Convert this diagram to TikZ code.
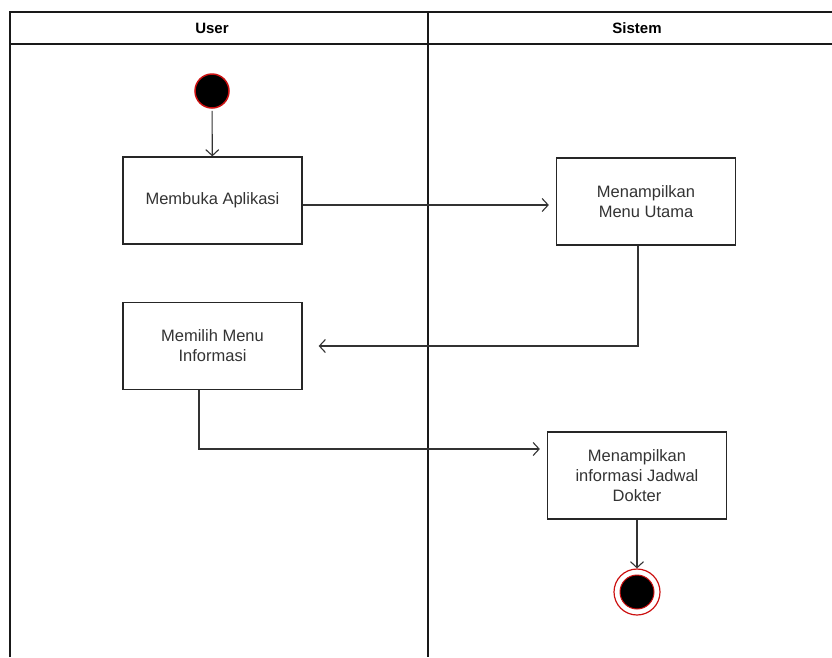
\documentclass[tikz,border=0pt]{standalone}
\usepackage{fontspec}
\setmainfont{Liberation Sans}
\usetikzlibrary{positioning,arrows.meta}
\definecolor{startred}{HTML}{CC1111}
\definecolor{textgrey}{HTML}{333333}
\tikzset{
    actbox/.style={draw=black!85, line width=1.3pt, minimum width=179pt, minimum height=87pt,
        align=center, font=\fontsize{16.5}{20}\selectfont, text=textgrey},
    flow/.style={-{Straight Barb[length=6pt,width=13pt,line width=1.1pt]}, line width=1.1pt, draw=black!80},
    lane/.style={line width=1.1pt, draw=black!90}
}
\begin{document}
\begin{tikzpicture}[x=1pt,y=-1pt]
        \useasboundingbox (0,0) rectangle (832,657);
        % swimlanes
        \draw[lane] (10,657) -- (10,12) -- (832,12);
        \draw[lane] (10,44) -- (832,44);
        \draw[lane] (428,12) -- (428,657);
        \node[font=\fontsize{15}{18}\selectfont\bfseries] (user) at (212,28) {User};
        \node[font=\fontsize{15}{18}\selectfont\bfseries] (sistem) at (637,28) {Sistem};
        % start and end
        \node[circle, fill=black, draw=startred, line width=1.5pt, minimum size=34pt, inner sep=0pt] (start) at (212,91) {};
        \node[circle, draw=startred, line width=1.2pt, minimum size=46pt, inner sep=0pt] (stop) at (637,592) {};
        \node[circle, fill=black, draw=startred, line width=1pt, minimum size=34pt, inner sep=0pt] (stopdot) at (637,592) {};
        % activities
        \node[actbox] (buka) at (212.5,200.5) {Membuka Aplikasi};
        \node[actbox] (menu) at (646,201.5) {Menampilkan\\Menu Utama};
        \node[actbox] (pilih) at (212.5,346) {Memilih Menu\\Informasi};
        \node[actbox] (jadwal) at (637,475.5) {Menampilkan\\informasi Jadwal\\Dokter};
        % flows
        \draw[flow, shorten <=2pt] (start) -- (buka);
        \draw[flow, shorten >=7pt] ([yshift=-4.5pt]buka.east) -- ([yshift=-3.5pt]menu.west);
        \draw[flow, shorten >=16pt] ([xshift=-8pt]menu.south) |- (pilih.east);
        \draw[flow, shorten >=7pt] ([xshift=-13.5pt]pilih.south) |- ([yshift=26.5pt]jadwal.west);
        \draw[flow] (jadwal) -- (stop);
    \end{tikzpicture}
\end{document}
